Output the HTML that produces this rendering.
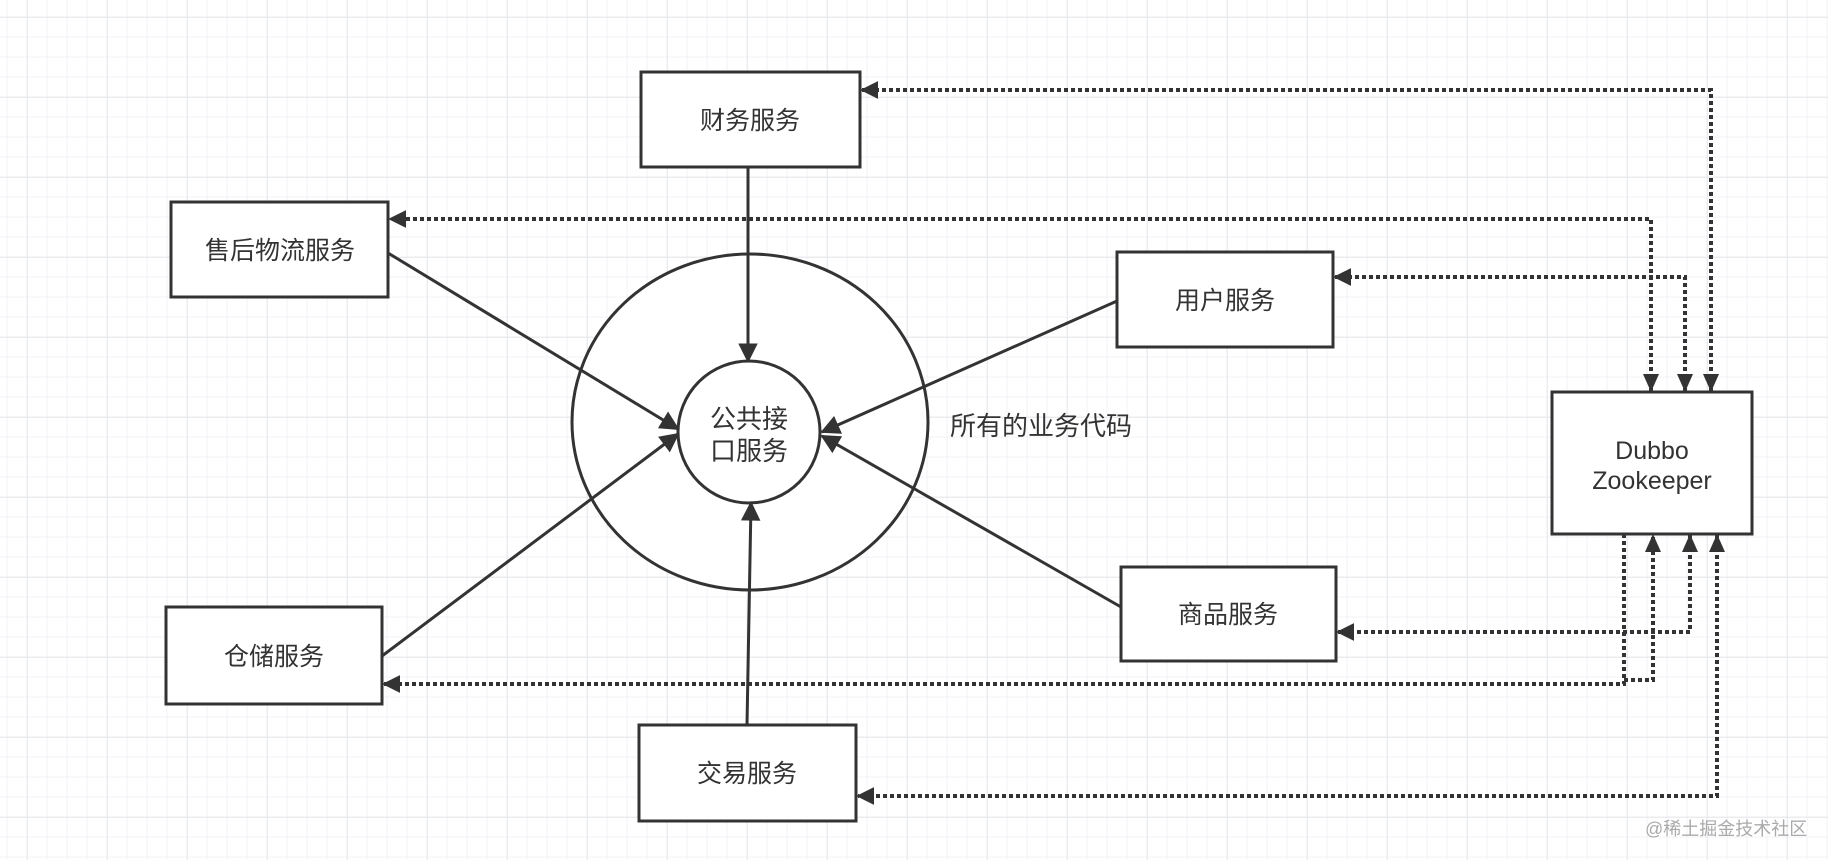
<!DOCTYPE html>
<html><head><meta charset="utf-8"><style>
html,body{margin:0;padding:0;background:#fff;}
svg{display:block;}
text{font-family:"Liberation Sans","Noto Sans CJK SC",sans-serif;fill:#333;}
</style></head><body>
<svg width="1828" height="860" viewBox="0 0 1828 860" xmlns="http://www.w3.org/2000/svg">
<defs>
<pattern id="minor" x="6.7" y="16.7" width="20" height="20" patternUnits="userSpaceOnUse">
<path d="M0 0V20M0 0H20" stroke="#eef0f3" stroke-width="1.5" fill="none"/>
</pattern>
<pattern id="major" x="26.7" y="16.7" width="80" height="80" patternUnits="userSpaceOnUse">
<path d="M0 0V80M0 0H80" stroke="#e3e5e9" stroke-width="2" fill="none"/>
</pattern>
<marker id="ah" viewBox="0 0 10 10" refX="9" refY="5" markerWidth="7" markerHeight="6.5" orient="auto" markerUnits="strokeWidth">
<path d="M0 0L10 5L0 10z" fill="#333"/>
</marker>
<marker id="ad" viewBox="0 0 10 10" refX="9" refY="5" markerWidth="4.5" markerHeight="4.5" orient="auto" markerUnits="strokeWidth">
<path d="M0 0L10 5L0 10z" fill="#333"/>
</marker>
</defs>
<rect width="1828" height="860" fill="url(#minor)"/>
<rect width="1828" height="860" fill="url(#major)"/>

<ellipse cx="750" cy="422" rx="178" ry="168" fill="#fff" stroke="#333" stroke-width="3"/>
<circle cx="749" cy="432" r="71" fill="#fff" stroke="#333" stroke-width="3"/>
<text x="749" y="428" font-size="26" text-anchor="middle">公共接</text>
<text x="749" y="460" font-size="26" text-anchor="middle">口服务</text>
<text x="950" y="435" font-size="26">所有的业务代码</text>

<g fill="#fff" stroke="#333" stroke-width="3">
<rect x="641" y="72" width="219" height="95"/>
<rect x="171" y="202" width="217" height="95"/>
<rect x="1117" y="252" width="216" height="95"/>
<rect x="1121" y="567" width="215" height="94"/>
<rect x="166" y="607" width="216" height="97"/>
<rect x="639" y="725" width="217" height="96"/>
<rect x="1552" y="392" width="200" height="142"/>
</g>
<g font-size="25" text-anchor="middle">
<text x="750" y="129">财务服务</text>
<text x="280" y="259">售后物流服务</text>
<text x="1225" y="309">用户服务</text>
<text x="1228" y="623">商品服务</text>
<text x="274" y="665">仓储服务</text>
<text x="747" y="782">交易服务</text>
<text x="1652" y="459" font-size="25">Dubbo</text>
<text x="1652" y="489" font-size="25">Zookeeper</text>
</g>

<g stroke="#333" stroke-width="3" fill="none" marker-end="url(#ah)">
<line x1="748" y1="167" x2="748" y2="361"/>
<line x1="388" y1="253" x2="678" y2="429"/>
<line x1="382" y1="656" x2="678" y2="434"/>
<line x1="1117" y1="301" x2="822" y2="432"/>
<line x1="1121" y1="607" x2="822" y2="436"/>
<line x1="747" y1="725" x2="751" y2="503"/>
</g>

<g stroke="#333" stroke-width="4" fill="none" stroke-dasharray="4 3" marker-end="url(#ad)">
<polyline points="1711,392 1711,90 862,90"/>
<polyline points="1651,392 1651,219 390,219"/>
<polyline points="1685,392 1685,277 1335,277"/>
<polyline points="1690,534 1690,632 1338,632"/>
<polyline points="1624,534 1624,684 384,684"/>
<polyline points="1717,534 1717,796 858,796"/>
<polyline points="1624,680 1653,680 1653,534" marker-end="none"/>
</g>
<g fill="#333">
<path d="M1651 392l-8 -18h16z"/>
<path d="M1685 392l-8 -18h16z"/>
<path d="M1711 392l-8 -18h16z"/>
<path d="M1653 534l-8 18h16z"/>
<path d="M1690 534l-8 18h16z"/>
<path d="M1717 534l-8 18h16z"/>
</g>
<text x="1645" y="835" font-size="18" style="fill:#aaa">@稀土掘金技术社区</text>
</svg>
</body></html>
